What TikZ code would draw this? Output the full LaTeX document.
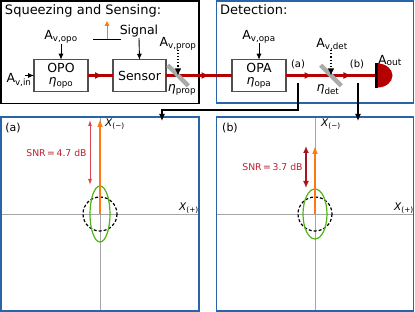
\documentclass[tikz,border=0pt]{standalone}
\usepackage{fontspec}
\setmainfont{DejaVu Sans}
\usetikzlibrary{arrows.meta,decorations.markings,calc}
\definecolor{beamred}{RGB}{180,0,0}
\definecolor{frameblue}{RGB}{40,100,170}
\definecolor{orng}{RGB}{255,120,20}
\definecolor{grn}{RGB}{80,180,20}
\definecolor{snrA}{RGB}{215,70,80}
\definecolor{snrB}{RGB}{170,20,30}
\definecolor{snrtxt}{RGB}{190,30,45}
\definecolor{bsgray}{RGB}{170,170,170}
\definecolor{axgray}{RGB}{165,165,165}
\definecolor{boxgray}{RGB}{80,80,80}
\begin{document}
\begin{tikzpicture}[x=1pt,y=-1pt,
  every node/.style={inner sep=0pt,outer sep=0pt},
  component/.style={draw=boxgray,line width=1.1pt,minimum width=54pt,minimum height=31.5pt},
  title/.style={font=\fontsize{13}{15}\selectfont,anchor=base west},
  lbl/.style={font=\fontsize{12.5}{15}\selectfont,anchor=base},
  small/.style={font=\fontsize{10}{12}\selectfont,anchor=base},
  plabel/.style={font=\fontsize{11}{13}\selectfont,anchor=base},
  beam/.style={draw=beamred,line width=3pt},
  beamarrows/.style={postaction={decorate,decoration={markings,#1}}},
  bsplit/.style={fill=bsgray,minimum width=29pt,minimum height=4.5pt,rotate=-45},
  plain/.style={draw=black,line width=0.9pt,-{Latex[length=6pt,width=5pt]}},
  dotted arrow/.style={draw=black,line width=1.1pt,dotted,-{Latex[length=7pt,width=6.5pt]}},
  conn/.style={draw=black,line width=1.2pt,-{Latex[length=7pt,width=6pt]}},
  panel/.style={draw=frameblue,line width=1.4pt},
  axis/.style={draw=axgray,line width=0.8pt},
  orangearrow/.style={draw=orng,line width=1.5pt,-{Triangle[length=7pt,width=5pt]}},
  xlabel/.style={font=\fontsize{10.5}{12}\selectfont,anchor=base west},
  snrlabel/.style={font=\fontsize{9.3}{11}\selectfont,text=snrtxt}
]
\useasboundingbox (0,0) rectangle (415,312);

% ---------- top frames ----------
\draw[line width=1.2pt] (1,1) rectangle (199,103.5);
\draw[draw=frameblue,line width=1.4pt] (216.5,1) rectangle (413.5,103);
\node[title] (tsq) at (5,15) {Squeezing and Sensing:};
\node[title] (tdet) at (220,15) {Detection:};

% ---------- components ----------
\node[component] (opo) at (61,75.5) {};
\node[component,minimum width=53pt] (sensor) at (139.5,75.5) {};
\node[component] (opa) at (259,75.5) {};
\node[lbl] (opot) at (61,72.5) {OPO};
\node[lbl] (opoe) at (61,85) {\textit{η}\textsubscript{opo}};
\node[lbl] (sent) at (139.5,81) {Sensor};
\node[lbl] (opat) at (259,72.5) {OPA};
\node[lbl] (opae) at (259,85) {\textit{η}\textsubscript{opa}};

% detector
\node[fill=black,minimum width=3pt,minimum height=25pt] (detbar) at (376,75.5) {};
\fill[beamred] ($(detbar.center)+(1.5,-12)$) arc[start angle=-90,end angle=90,x radius=15,y radius=12] -- cycle;
\node[lbl,anchor=base west] (aout) at (378,65) {A\raisebox{-1pt}{\fontsize{9}{10}\selectfont out}};

% ---------- beams ----------
\path[beam,beamarrows={mark=at position 0.6 with {\arrow{Latex[length=8pt,width=7pt]}}}] (opo.east) -- (sensor.west);
\path[beam,beamarrows={mark=at position 0.66 with {\arrow{Latex[length=8pt,width=7pt]}}}] (sensor.east) -- (opa.west);
\path[beam,beamarrows={mark=at position 0.3 with {\arrow{Latex[length=8pt,width=7pt]}},mark=at position 0.74 with {\arrow{Latex[length=8pt,width=7pt]}}}] (opa.east) -- (detbar.west);

% beam splitters
\node[bsplit] (bs1) at (178,75.5) {};
\node[bsplit] (bs2) at (331,75.5) {};

% ---------- inputs ----------
\node[lbl] (avin) at (19,83) {A\textsubscript{v,in}};
\coordinate (avinstart) at (25,75.5);
\draw[plain] (avinstart) -- (opo.west);

\node[lbl] (avopo) at (61,40) {A\textsubscript{v,opo}};
\draw[plain] ($(avopo.base)+(0,4)$) -- (opo.north);

\node[lbl] (avopa) at (259,39.5) {A\textsubscript{v,opa}};
\draw[plain] ($(avopa.base)+(0,4)$) -- (opa.north);

\node[lbl] (signal) at (139,35) {Signal};
\draw[plain] ($(signal.base)+(0,3)$) -- (sensor.north);
\coordinate (sigL) at (93,39);
\coordinate (sigR) at (121,39);
\coordinate (sigM) at (107,39);
\coordinate (sigTop) at (107,21);
\draw[line width=0.9pt] (sigL) -- (sigR);
\draw[draw=orng,line width=1pt,-{Triangle[length=5pt,width=4.5pt]}] (sigM) -- (sigTop);

\node[lbl] (avprop) at (178,47) {A\textsubscript{v,prop}};
\draw[dotted arrow] ($(avprop.base)+(0,3)$) -- (bs1.center);
\node[lbl] (eprop) at (182,92) {\textit{η}\textsubscript{prop}};

\node[lbl] (avdet) at (332,47.3) {A\textsubscript{v,det}};
\draw[dotted arrow] ($(avdet.base)+(-1,3)$) -- (bs2.center);
\node[lbl] (edet) at (328,92) {\textit{η}\textsubscript{det}};

\node[small] (la) at (298,68) {(a)};
\node[small] (lb) at (357,68) {(b)};

% ---------- panels ----------
\node[minimum width=198pt,minimum height=194pt] (pa) at (100,214) {};
\node[minimum width=197pt,minimum height=194pt] (pb) at (315,214) {};
\draw[axis] (pa.north) -- (pa.south);
\draw[axis] (pa.west) -- (pa.east);
\draw[axis] (pb.north) -- (pb.south);
\draw[axis] (pb.west) -- (pb.east);
\draw[panel] (pa.north west) rectangle (pa.south east);
\draw[panel] (pb.north west) rectangle (pb.south east);

% connectors
\coordinate (tapA) at (298,83);
\coordinate (inA) at (162,121);
\coordinate (tapB) at (358,83);
\coordinate (inB) at (358,121);
\draw[conn] (tapA) -- ++(0,27) -| (inA);
\draw[conn] (tapB) -- (inB);

% panel (a)
\node[plabel] (pla) at (13,131.5) {(a)};
\draw[black,line width=1.2pt,dash pattern=on 3pt off 2pt] (pa.center) circle[radius=17];
\draw[grn,line width=1.2pt] (pa.center) ellipse[x radius=10,y radius=28];
\coordinate (topA) at (100,120);
\draw[orangearrow] (pa.center) -- (topA);
\coordinate (snrAtop) at (90,120);
\coordinate (snrAbot) at (90,185);
\draw[draw=snrA,line width=1pt,{Latex[length=6pt,width=4pt]}-{Latex[length=6pt,width=4pt]}] (snrAtop) -- (snrAbot);
\node[snrlabel] (snra) at (56.5,153) {SNR\,=\,4.7 dB};
\node[xlabel] (xma) at (105,127) {\textit{X}\textsubscript{(−)}};
\node[xlabel] (xpa) at (179,211) {\textit{X}\textsubscript{(+)}};

% panel (b)
\node[plabel] (plb) at (230,131.5) {(b)};
\draw[black,line width=1.2pt,dash pattern=on 3pt off 2pt] (pb.center) circle[radius=17];
\draw[grn,line width=1.2pt] (pb.center) ellipse[x radius=12,y radius=25];
\coordinate (topB) at (315,147);
\draw[orangearrow] (pb.center) -- (topB);
\coordinate (snrBtop) at (306,146);
\coordinate (snrBbot) at (306,188);
\draw[draw=snrB,line width=1.8pt,{Latex[length=7pt,width=6pt]}-{Latex[length=7pt,width=6pt]}] (snrBtop) -- (snrBbot);
\node[snrlabel] (snrb) at (272.5,167) {SNR\,=\,3.7 dB};
\node[xlabel] (xmb) at (321,127) {\textit{X}\textsubscript{(−)}};
\node[xlabel] (xpb) at (394,211) {\textit{X}\textsubscript{(+)}};
\end{tikzpicture}
\end{document}
